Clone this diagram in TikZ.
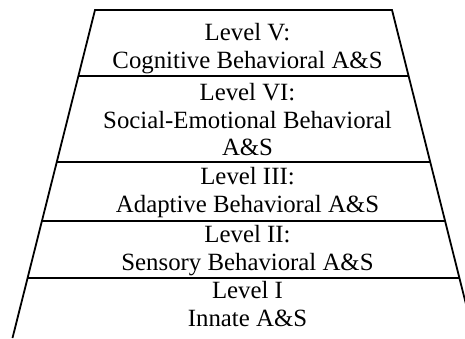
\documentclass[tikz,border=0pt]{standalone}
\usepackage{fontspec}
\setmainfont{Liberation Serif}
\usetikzlibrary{calc}
\begin{document}
\begin{tikzpicture}[x=1pt,y=-1pt,
  side/.style={line width=1.8pt, line join=miter},
  sepline/.style={line width=1.8pt},
  lbl/.style={align=center, font=\fontsize{24.8}{27.8}\selectfont, inner sep=0pt, anchor=base}]
\useasboundingbox (0,0) rectangle (465,339);
\clip (0,0) rectangle (465,339);
\coordinate (tl) at (95,10);
\coordinate (bl) at (12.5,338);
\coordinate (tr) at (392,10);
\coordinate (br) at (474.5,338);
\draw[side] (bl) -- (tl) -- (tr) -- (br);
\foreach \f in {0.2012,0.4634,0.6433,0.8171}
  \draw[sepline] ($(tl)!\f!(bl)$) -- ($(tr)!\f!(br)$);
\node[lbl] (l5) at (247.5,68.5) {Level V:\\Cognitive Behavioral A\&S};
\node[lbl] (l6) at (247.5,156) {Level VI:\\Social-Emotional Behavioral\\A\&S};
\node[lbl] (l3) at (247.5,212.7) {Level III:\\Adaptive Behavioral A\&S};
\node[lbl] (l2) at (247.5,270) {Level II:\\Sensory Behavioral A\&S};
\node[lbl] (l1) at (247.5,326) {Level I\\Innate A\&S};
\end{tikzpicture}
\end{document}
